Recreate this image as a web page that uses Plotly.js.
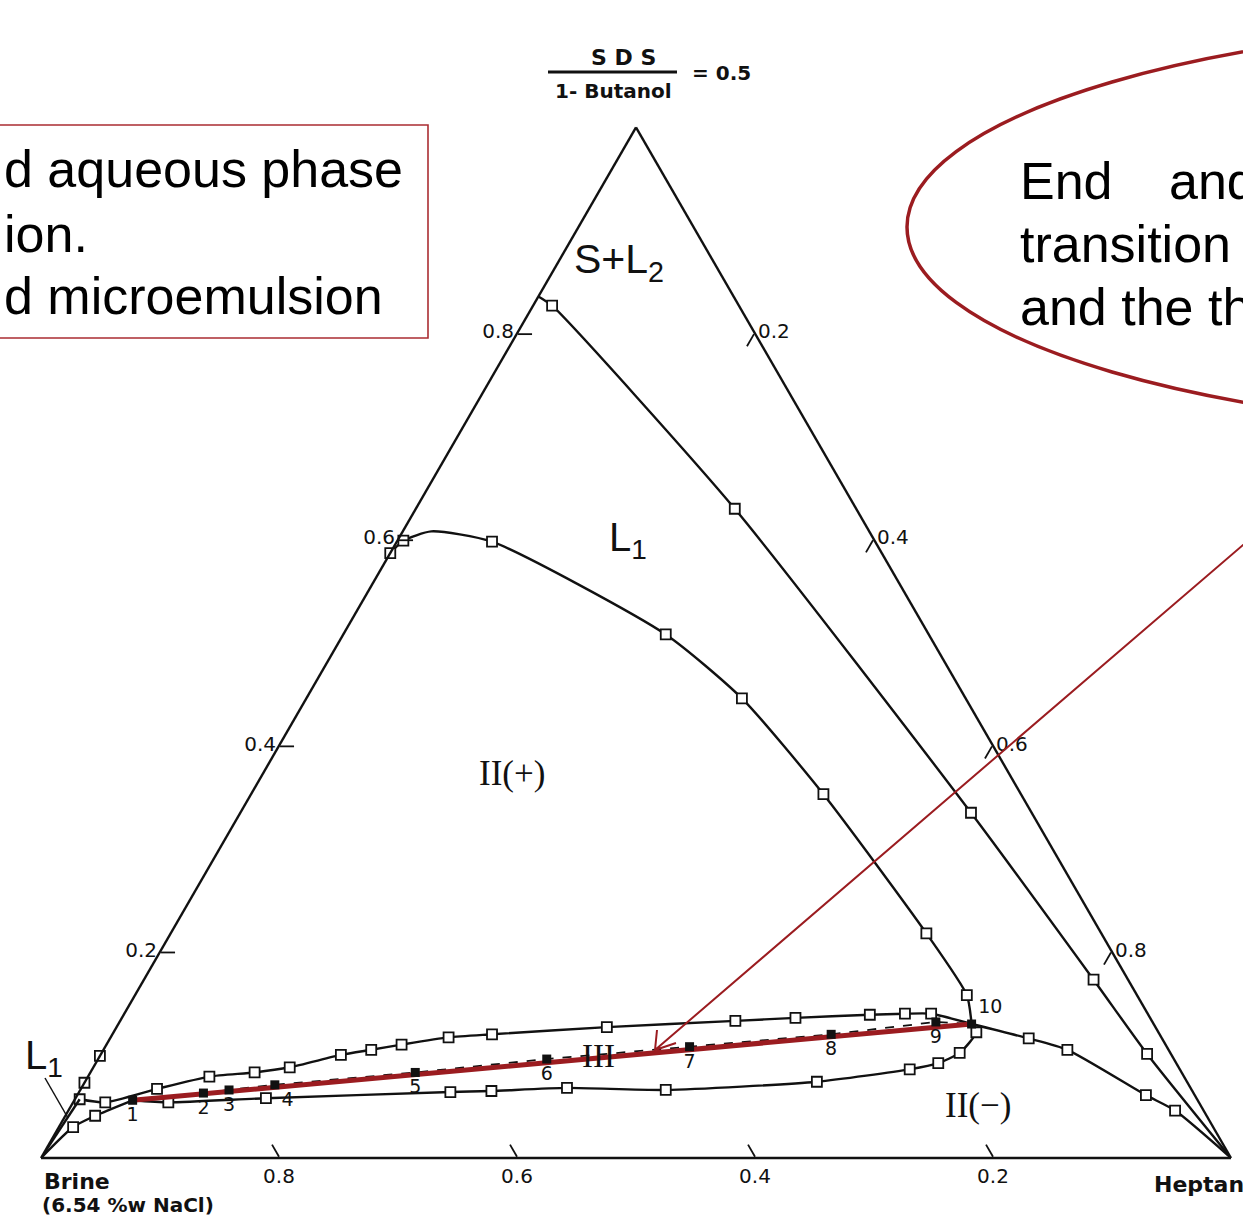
<!DOCTYPE html>
<html><head><meta charset="utf-8">
<script src="https://cdn.plot.ly/plotly-3.0.1.min.js"></script>
<style>html,body{margin:0;padding:0;background:#fff;overflow:hidden}#chart{width:1243px;height:1216px}</style>
</head><body><div id="chart"></div>
<script>
// Compositions (weight fractions). a = SDS/1-Butanol (ratio 0.5), c = Heptane, Brine = 1 - a - c
// Outer binodal (S+L2 / L1 boundary, towards heptane corner)
const outerA = [0.836, 0.827, 0.630, 0.335, 0.173, 0.101, 0.0];
const outerC = [0.000, 0.016, 0.268, 0.614, 0.798, 0.879, 1.0];
const outerMeasured = [0, 1, 1, 1, 1, 1, 0];
// L1 dome (II(+) boundary)
const domeA = [0.587, 0.599, 0.608, 0.598, 0.508, 0.446, 0.353, 0.218, 0.158, 0.130];
const domeC = [0.000, 0.005, 0.024, 0.080, 0.271, 0.366, 0.481, 0.635, 0.699, 0.717];
const domeMeasured = [1, 1, 0, 1, 1, 1, 1, 1, 1, 0];
// Three-phase lobe, upper boundary
const lobeUpA = [0.057, 0.054, 0.067, 0.079, 0.083, 0.088, 0.100, 0.105, 0.110, 0.117, 0.120, 0.127, 0.133, 0.136, 0.139, 0.140, 0.140, 0.130];
const lobeUpC = [0.004, 0.027, 0.064, 0.102, 0.138, 0.165, 0.202, 0.225, 0.248, 0.284, 0.319, 0.412, 0.517, 0.566, 0.627, 0.656, 0.678, 0.717];
const lobeUpMeasured = [1, 1, 1, 1, 1, 1, 1, 1, 1, 1, 1, 1, 1, 1, 1, 1, 1, 0];
// Three-phase lobe, lower boundary
const lobeLowA = [0.056, 0.054, 0.058, 0.064, 0.065, 0.068, 0.066, 0.074, 0.086, 0.092, 0.102, 0.122, 0.130];
const lobeLowC = [0.049, 0.080, 0.160, 0.312, 0.346, 0.408, 0.492, 0.615, 0.687, 0.708, 0.721, 0.725, 0.717];
const lobeLowMeasured = [0, 1, 1, 1, 1, 1, 1, 1, 1, 1, 1, 1, 0];
// II(-) boundary towards heptane corner
const oilSideA = [0.130, 0.116, 0.105, 0.061, 0.046, 0.0];
const oilSideC = [0.717, 0.772, 0.810, 0.898, 0.930, 1.0];
const oilSideMeasured = [0, 1, 1, 1, 1, 0];
// Brine corner: tie line to point 1 and L1 boundary
const tieA = [0.0, 0.030, 0.041, 0.056];
const tieC = [0.0, 0.012, 0.025, 0.049];
const tieMeasured = [0, 1, 1, 0];
const l1A = [0.0, 0.057];
const l1C = [0.0, 0.004];
// Points on the Brine - SDS/Butanol edge
const edgeA = [0.099, 0.073];
const edgeC = [0.0, 0.0];
// Middle-phase compositions 1..10
const midLabels = ['1', '2', '3', '4', '5', '6', '7', '8', '9', '10'];
const midA = [0.056, 0.063, 0.066, 0.071, 0.083, 0.096, 0.108, 0.120, 0.132, 0.130];
const midC = [0.049, 0.105, 0.125, 0.161, 0.273, 0.377, 0.491, 0.604, 0.686, 0.717];
const midLabelPos = ['bottom center', 'bottom center', 'bottom center', 'bottom right', 'bottom center',
  'bottom center', 'bottom center', 'bottom center', 'bottom center', 'top right'];
const tickVals = [0.2, 0.4, 0.6, 0.8];

const W = 1243, H = 1216;
const px = x => x / W;
const py = y => 1 - y / H;
const BLACK = '#111';
const RED = 'rgb(155,28,32)';

function sel(arr, flags) { return arr.filter((v, i) => flags[i]); }
function curve(A, C, flags) {
  const out = [{
    type: 'scatterternary', mode: 'lines', a: A, c: C,
    line: {color: BLACK, width: 2.4, shape: 'spline', smoothing: 0.6},
    hoverinfo: 'skip', showlegend: false, cliponaxis: false
  }];
  if (flags) out.push({
    type: 'scatterternary', mode: 'markers', a: sel(A, flags), c: sel(C, flags),
    marker: {symbol: 'square', size: 10, color: '#fff', line: {color: BLACK, width: 1.8}},
    hoverinfo: 'skip', showlegend: false, cliponaxis: false
  });
  return out;
}

const data = [].concat(
  curve(outerA, outerC, outerMeasured),
  curve(domeA, domeC, domeMeasured),
  curve(lobeUpA, lobeUpC, lobeUpMeasured),
  curve(lobeLowA, lobeLowC, lobeLowMeasured),
  curve(oilSideA, oilSideC, oilSideMeasured),
  curve(tieA, tieC, tieMeasured),
  curve(l1A, l1C, null),
  [{
    type: 'scatterternary', mode: 'markers', a: edgeA, c: edgeC,
    marker: {symbol: 'square', size: 10, color: '#fff', line: {color: BLACK, width: 1.8}},
    hoverinfo: 'skip', showlegend: false, cliponaxis: false
  }, {
    type: 'scatterternary', mode: 'lines', a: midA, c: midC,
    line: {color: BLACK, width: 1.8, dash: 'dash'}, hoverinfo: 'skip', showlegend: false, cliponaxis: false
  }, {
    type: 'scatterternary', mode: 'lines',
    a: [midA[0], midA[midA.length - 1]], c: [midC[0], midC[midC.length - 1]],
    line: {color: RED, width: 5}, hoverinfo: 'skip', showlegend: false, cliponaxis: false
  }, {
    type: 'scatterternary', mode: 'markers+text', a: midA, c: midC, text: midLabels,
    textposition: midLabelPos, textfont: {family: 'DejaVu Sans', size: 19, color: BLACK},
    marker: {symbol: 'square', size: 9, color: BLACK},
    hoverinfo: 'skip', showlegend: false, cliponaxis: false
  }]
);

const axisBase = {
  title: {text: ''}, min: 0, tickmode: 'array', tickvals: tickVals,
  ticks: 'inside', ticklen: 14, tickwidth: 1.8, tickcolor: BLACK,
  showline: true, linecolor: BLACK, linewidth: 2.4, showgrid: false,
  tickfont: {family: 'DejaVu Sans', size: 20, color: BLACK}
};

function txt(x, y, text, size, family, extra) {
  return Object.assign({
    xref: 'paper', yref: 'paper', x: px(x), y: py(y), text: text, showarrow: false,
    xanchor: 'center', yanchor: 'middle',
    font: {size: size, family: family, color: BLACK}
  }, extra || {});
}
const BIG = 'Liberation Sans, Arial, sans-serif';
const slide = {xanchor: 'left', font: {size: 52, family: BIG, color: '#000'}};
const annotations = [
  // chart labels
  txt(623, 57, '<b>S D S</b>', 22, 'DejaVu Sans'),
  txt(613, 91, '<b>1- Butanol</b>', 20, 'DejaVu Sans'),
  txt(721, 73, '<b>= 0.5</b>', 20, 'DejaVu Sans'),
  txt(42, 1181, '<b>Brine</b>', 22, 'DejaVu Sans', {xanchor: 'left'}),
  txt(40, 1205, '<b>(6.54 %w NaCl)</b>', 20, 'DejaVu Sans', {xanchor: 'left'}),
  txt(1152, 1184, '<b>Heptane</b>', 22, 'DejaVu Sans', {xanchor: 'left'}),
  txt(619, 262, 'S+L<sub>2</sub>', 41, BIG),
  txt(628, 540, 'L<sub>1</sub>', 40, BIG),
  txt(512, 773, 'II(+)', 35, 'Liberation Serif'),
  txt(598, 1056, 'III', 33, 'Liberation Serif'),
  txt(978, 1105, 'II(\u2212)', 35, 'Liberation Serif'),
  txt(44, 1058, 'L<sub>1</sub>', 40, BIG),
  // overlay text (slide)
  txt(2, 169, 'd aqueous phase', 52, BIG, slide),
  txt(2, 234, 'ion.', 52, BIG, slide),
  txt(2, 296, 'd microemulsion', 52, BIG, slide),
  txt(1018, 181, 'End', 52, BIG, slide),
  txt(1167, 181, 'and', 52, BIG, slide),
  txt(1018, 244, 'transition', 52, BIG, slide),
  txt(1018, 307, 'and the th', 52, BIG, slide)
];

function P(x, y) { return px(x) + ',' + py(y); }
const shapes = [
  {type: 'line', xref: 'paper', yref: 'paper', x0: px(548), x1: px(677), y0: py(72), y1: py(72), line: {color: BLACK, width: 3}},
  {type: 'line', xref: 'paper', yref: 'paper', x0: px(45), x1: px(68), y0: py(1078), y1: py(1118), line: {color: BLACK, width: 1.5}},
  {type: 'rect', xref: 'paper', yref: 'paper', x0: px(-10), x1: px(428), y0: py(125), y1: py(338), line: {color: 'rgb(170,45,50)', width: 1.6}},
  {type: 'circle', xref: 'paper', yref: 'paper', x0: px(907), x1: px(2307), y0: py(22), y1: py(432), line: {color: RED, width: 3.5}},
  {type: 'path', xref: 'paper', yref: 'paper',
   path: 'M' + P(1300, 496) + 'L' + P(655, 1050) + 'M' + P(657, 1030) + 'L' + P(655, 1050) + 'L' + P(676, 1043),
   line: {color: RED, width: 2}}
];

const layout = {
  width: W, height: H, margin: {l: 0, r: 0, t: 0, b: 0},
  paper_bgcolor: '#fff', showlegend: false,
  ternary: {
    sum: 1, bgcolor: '#fff',
    domain: {x: [0.03299, 0.99035], y: [0.04146, 0.90146]},
    aaxis: axisBase, baxis: axisBase, caxis: axisBase
  },
  annotations: annotations, shapes: shapes
};
Plotly.newPlot('chart', data, layout, {displayModeBar: false, staticPlot: true});
</script></body></html>
